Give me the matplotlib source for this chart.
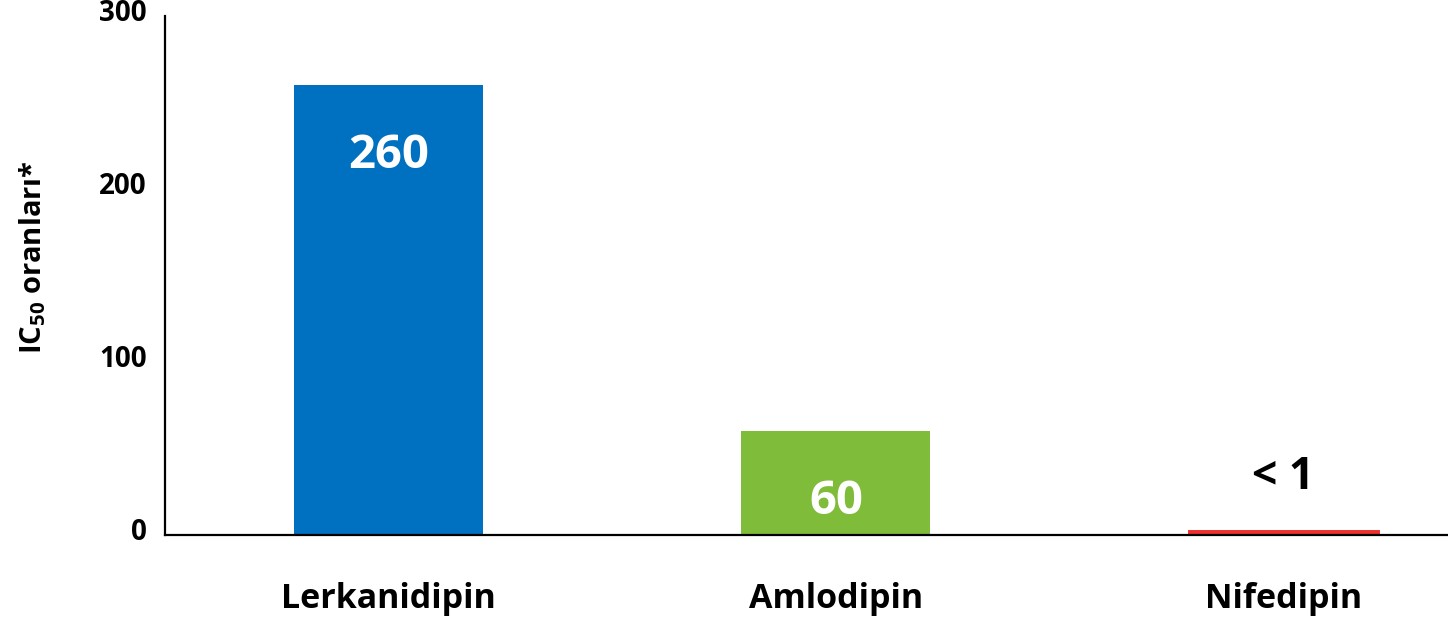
import matplotlib
matplotlib.use("Agg")
import matplotlib.pyplot as plt
from matplotlib.transforms import ScaledTranslation

# Data
categories = ["Lerkanidipin", "Amlodipin", "Nifedipin"]
values = [260, 60, 1]
value_labels = ["260", "60", "< 1"]
bar_colors = ["#0070C0", "#7FBC39", "#EE302C"]
yticks = [0, 100, 200, 300]

FONT = "Open Sans"
plt.rcParams["font.family"] = [FONT, "DejaVu Sans"]
plt.rcParams["font.weight"] = "bold"
plt.rcParams["mathtext.fontset"] = "custom"
plt.rcParams["mathtext.rm"] = f"{FONT}:bold"
plt.rcParams["mathtext.bf"] = f"{FONT}:bold"

W, H, DPI = 1448, 622, 100
fig = plt.figure(figsize=(W / DPI, H / DPI), dpi=DPI)
ax = fig.add_axes([165 / W, 1 - 535 / H, 1 - 165 / W, (535 - 16) / H])

x = list(range(len(categories)))
# thin bars get an outline in their own colour so they stay visible
edge_w = [0, 0, 5]
bar_w = [0.422, 0.422, 0.412]
bars = ax.bar(x, values, width=bar_w, color=bar_colors,
              edgecolor=bar_colors, linewidth=edge_w, zorder=2)

ax.set_xlim(-0.4994, 2.368)
ax.set_ylim(0, 300)
ax.set_yticks(yticks)
ax.set_yticklabels([str(t) for t in yticks])
ax.set_xticks(x)
ax.set_xticklabels(categories)

for side in ("top", "right"):
    ax.spines[side].set_visible(False)
for side in ("left", "bottom"):
    ax.spines[side].set_linewidth(1.6)
    ax.spines[side].set_color("black")
    ax.spines[side].set_zorder(3)

ax.tick_params(axis="both", length=0)
ax.tick_params(axis="y", labelsize=20, pad=13)
ax.tick_params(axis="x", labelsize=24.5, pad=34)
shift = ScaledTranslation(0, 6 / DPI, fig.dpi_scale_trans)
for lbl in ax.get_yticklabels():
    lbl.set_fontweight("bold")
    lbl.set_transform(lbl.get_transform() + shift)
for lbl in ax.get_xticklabels():
    lbl.set_fontweight("bold")

ax.set_ylabel("IC$_{50}$ oranları*", fontsize=21, fontweight="bold", labelpad=0)
ax.yaxis.set_label_coords(-0.091, 0.535)

# value annotations: inside the tall bars, above the tiny one
for rect, val, txt in zip(bars, values, value_labels):
    cx = rect.get_x() + rect.get_width() / 2
    if val >= 30:
        ax.annotate(txt, (cx, val), xytext=(0, -70 * 72 / DPI),
                    textcoords="offset points", ha="center", va="center",
                    color="white", fontsize=34, fontweight="bold", zorder=4)
    else:
        ax.annotate(txt, (cx, val), xytext=(0, 56 * 72 / DPI),
                    textcoords="offset points", ha="center", va="center",
                    color="black", fontsize=32, fontweight="bold", zorder=4)

fig.savefig("out.png", dpi=DPI)
